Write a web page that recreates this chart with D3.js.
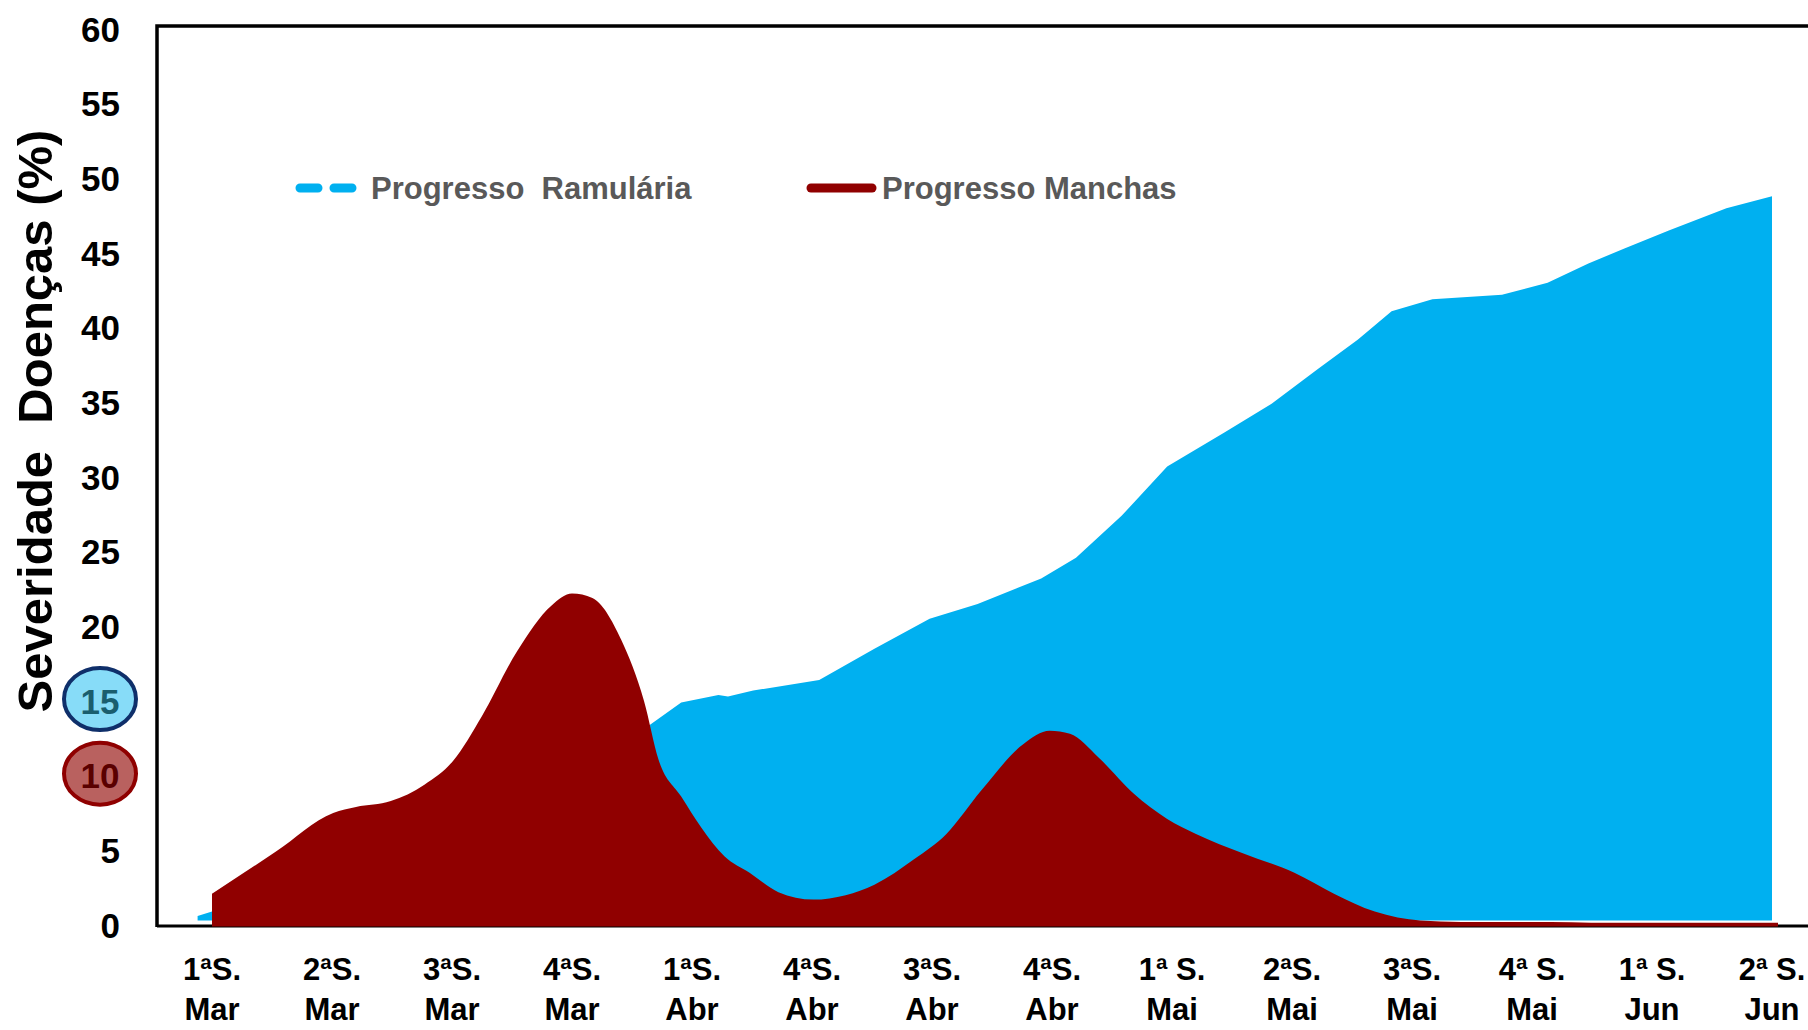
<!DOCTYPE html>
<head>
  <meta charset="utf-8">
  <script src="https://d3js.org/d3.v7.min.js"></script>
  <style>
    body { margin:0; background-color: white; }
    text { font-family: 'Liberation Sans', Arial, sans-serif; font-weight: bold; }
    .tick-label { font-size: 35px; fill: black; }
    .x-label { font-size: 31px; fill: black; }
    .legend-text { font-size: 31px; fill: #595959; white-space: pre; }
  </style>
</head>
<body>
  <svg id="chart" width="1808" height="1030"></svg>
  <script>
  // week labels (two lines each)
  var weekTop = ["1ªS.", "2ªS.", "3ªS.", "4ªS.", "1ªS.", "4ªS.", "3ªS.", "4ªS.",
                 "1ª S.", "2ªS.", "3ªS.", "4ª S.", "1ª S.", "2ª S."];
  var weekMonth = ["Mar", "Mar", "Mar", "Mar", "Abr", "Abr", "Abr", "Abr",
                   "Mai", "Mai", "Mai", "Mai", "Jun", "Jun"];
  var yTicks = [0, 5, 10, 15, 20, 25, 30, 35, 40, 45, 50, 55, 60];

  // Progresso Ramulária: position (in weeks) and severity
  var ramPos = [-0.12, 0, 0.5, 1, 2, 3, 3.63, 3.91, 4.22, 4.30, 4.51, 5.06, 5.52, 5.98, 6.38,
                6.91, 7.20, 7.58, 7.96, 8.44, 8.83, 9.21, 9.55, 9.83, 10.17, 10.75,
                11.13, 11.47, 11.77, 12.14, 12.62, 13.0];
  var ramVal = [0.6, 0.9, 2.5, 4, 8, 11, 13.3, 14.9, 15.4, 15.3, 15.7, 16.4, 18.5, 20.5, 21.5,
                23.2, 24.6, 27.4, 30.7, 33.0, 34.9, 37.2, 39.2, 41.1, 41.9, 42.2,
                43.0, 44.3, 45.3, 46.5, 48.0, 48.8];

  // Progresso Manchas
  var manPos = [0, 0.53, 1.01, 1.20, 1.49, 1.77, 2.01, 2.25, 2.54, 2.83, 3.0, 3.17, 3.41,
                3.60, 3.72, 3.91, 4.08, 4.27, 4.48, 4.72, 5.01, 5.28, 5.52, 5.85, 6.12,
                6.41, 6.76, 6.98, 7.15, 7.39, 7.68, 7.96, 8.20, 8.59, 9.02, 9.35, 9.69,
                10.07, 10.41, 10.99, 11.66, 13.05];
  var manVal = [2.1, 4.9, 7.5, 7.9, 8.3, 9.4, 11.0, 14.0, 18.3, 21.4, 22.2, 21.9, 19.1,
                15.0, 11.1, 8.6, 6.5, 4.6, 3.5, 2.2, 1.7, 2.0, 2.7, 4.4, 6.1,
                9.0, 12.1, 13.0, 12.8, 11.2, 8.8, 7.1, 6.1, 4.8, 3.5, 2.1, 0.9,
                0.3, 0.2, 0.2, 0.15, 0.15];

  var svg = d3.select("#chart");

  var x = d3.scaleLinear().domain([0, 13]).range([212, 1772]);
  var y = d3.scaleLinear().domain([0, 60]).range([925, 29]);

  var ramData = ramPos.map(function(p, i) { return {p: p, v: ramVal[i]}; });
  var manData = manPos.map(function(p, i) { return {p: p, v: manVal[i]}; });

  var ramArea = d3.area()
      .x(function(d) { return x(d.p); })
      .y0(y(0.3))
      .y1(function(d) { return y(d.v); })
      .curve(d3.curveLinear);

  var manArea = d3.area()
      .x(function(d) { return x(d.p); })
      .y0(y(-0.1))
      .y1(function(d) { return y(d.v); })
      .curve(d3.curveMonotoneX);

  // axis frame
  svg.append("line")
      .attr("x1", 157).attr("x2", 1808)
      .attr("y1", y(0) + 1).attr("y2", y(0) + 1)
      .style("stroke", "black").style("stroke-width", 3);

  svg.append("path")
      .attr("d", ramArea(ramData))
      .style("fill", "#00B0F0");

  svg.append("path")
      .attr("d", manArea(manData))
      .style("fill", "#900000");

  svg.append("path")
      .attr("d", "M157," + (y(0) + 2) + "V26H1808")
      .style("fill", "none")
      .style("stroke", "black")
      .style("stroke-width", 3.5);

  // y tick labels
  var badge = {15: {fill: "#87dcf8", stroke: "#0f2f6a", text: "#1a5e6e"},
               10: {fill: "#b9615f", stroke: "#8f0000", text: "#5a0000"}};

  yTicks.forEach(function(t) {
    if (badge[t]) {
      svg.append("ellipse")
          .attr("cx", 100).attr("cy", y(t) - 2)
          .attr("rx", 36).attr("ry", 31)
          .style("fill", badge[t].fill)
          .style("stroke", badge[t].stroke)
          .style("stroke-width", 4);
    }
    svg.append("text")
        .attr("class", "tick-label")
        .attr("x", badge[t] ? 100 : 120)
        .attr("y", y(t))
        .attr("dy", "0.36em")
        .style("text-anchor", badge[t] ? "middle" : "end")
        .style("fill", badge[t] ? badge[t].text : "black")
        .text(t);
  });

  // y axis title
  svg.append("text")
      .attr("transform", "translate(52,421) rotate(-90)")
      .style("text-anchor", "middle")
      .style("font-size", "49px")
      .style("white-space", "pre")
      .text("Severidade  Doenças (%)");

  // x labels
  var xl = svg.selectAll(".x-label")
      .data(weekTop)
    .enter().append("text")
      .attr("class", "x-label")
      .attr("x", function(d, i) { return x(i); })
      .attr("y", 980)
      .style("text-anchor", "middle");
  xl.append("tspan").text(function(d) { return d; });
  xl.append("tspan")
      .attr("x", function(d, i) { return x(i); })
      .attr("dy", 40)
      .text(function(d, i) { return weekMonth[i]; });

  // legend
  svg.append("line")
      .attr("x1", 300).attr("x2", 360)
      .attr("y1", 188).attr("y2", 188)
      .style("stroke", "#00B0F0")
      .style("stroke-width", 9)
      .style("stroke-linecap", "round")
      .style("stroke-dasharray", "18,16");
  svg.append("text")
      .attr("class", "legend-text")
      .attr("x", 371).attr("y", 199)
      .text("Progresso  Ramulária");

  svg.append("line")
      .attr("x1", 811).attr("x2", 872)
      .attr("y1", 188).attr("y2", 188)
      .style("stroke", "#900000")
      .style("stroke-width", 9)
      .style("stroke-linecap", "round");
  svg.append("text")
      .attr("class", "legend-text")
      .attr("x", 882).attr("y", 199)
      .text("Progresso Manchas");
  </script>
</body>
